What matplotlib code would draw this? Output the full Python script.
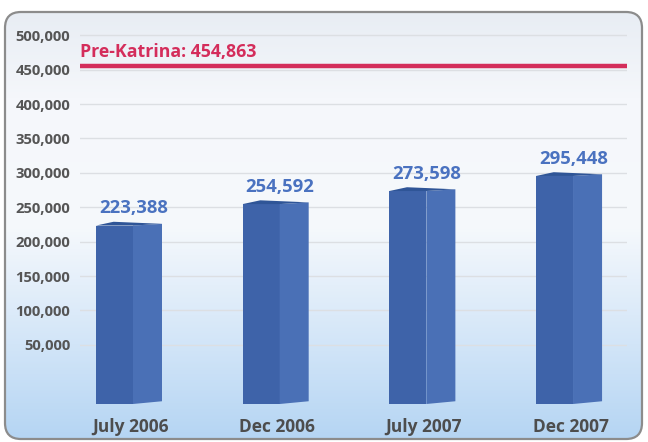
import numpy as np
import matplotlib
matplotlib.use("Agg")
import matplotlib.pyplot as plt
from matplotlib.patches import FancyBboxPatch, Polygon
from matplotlib.colors import LinearSegmentedColormap
from matplotlib.ticker import FuncFormatter

# Dados
periodos = ["July 2006", "Dec 2006", "July 2007", "Dec 2007"]
populacao = [223388, 254592, 273598, 295448]
pre_katrina = 454863
ticks_y = [50000, 100000, 150000, 200000, 250000, 300000, 350000, 400000, 450000, 500000]

plt.rcParams['font.family'] = ['Open Sans', 'DejaVu Sans']

fig = plt.figure(figsize=(6.48, 4.42), dpi=100)
fig.patch.set_facecolor("white")

# Painel de fundo com degradê e cantos arredondados
bg = fig.add_axes([0, 0, 1, 1])
bg.set_xlim(0, 648)
bg.set_ylim(0, 442)
bg.axis("off")
painel = FancyBboxPatch((5, 3), 637, 427, boxstyle="round,pad=0,rounding_size=16",
                        facecolor="none", edgecolor="#8c8c8c", linewidth=1.6, zorder=3)
bg.add_patch(painel)
cmap = LinearSegmentedColormap.from_list(
    "fundo", [(0.0, "#b5d5f3"), (0.22, "#d2e5f8"), (0.5, "#f6f9fc"), (0.8, "#f5f7fb"), (1.0, "#e8edf4")])
grad = np.linspace(0, 1, 256).reshape(-1, 1)
img = bg.imshow(grad, cmap=cmap, aspect="auto", extent=(5, 642, 3, 430), origin="lower", zorder=1)
img.set_clip_path(painel)

# Eixo principal
ax = fig.add_axes([80 / 648, 38 / 442, 547 / 648, 382.5 / 442])
ax.patch.set_alpha(0)
ax.set_xlim(-0.334, 3.395)
ax.set_ylim(-36000, 520000)
for s in ax.spines.values():
    s.set_visible(False)

for t in ticks_y:
    ax.axhline(t, color="#dcdfe3", linewidth=1.0, zorder=1)

ax.set_yticks(ticks_y)
ax.yaxis.set_major_formatter(FuncFormatter(lambda v, p: f"{int(v):,}"))
ax.tick_params(axis="y", length=0, pad=7, labelsize=10.7, labelcolor="#555555")
for lbl in ax.get_yticklabels():
    lbl.set_fontweight("bold")

x = np.arange(len(periodos))
ax.set_xticks(x + 0.01)
ax.set_xticklabels(periodos, fontsize=12.5, fontweight="bold", color="#4d4d4d")
ax.tick_params(axis="x", length=0, pad=10)

# Barras em pseudo-3D
piso = -36000
larg_frente = 0.252
larg_lado = 0.198
for i, v in zip(x, populacao):
    esq = i - 0.225
    meio = esq + larg_frente
    dir_ = meio + larg_lado
    ax.bar(esq, v - piso, bottom=piso, width=larg_frente, align="edge",
           color="#3e63a9", edgecolor="none", zorder=3)
    lado = Polygon([(meio, piso), (dir_, piso + 4000), (dir_, v + 2500), (meio, v)],
                   closed=True, facecolor="#4a70b6", edgecolor="none", zorder=3)
    ax.add_patch(lado)
    topo = Polygon([(esq, v), (esq + 0.12, v + 5500), (dir_, v + 2500), (meio, v)],
                   closed=True, facecolor="#2f5597", edgecolor="none", zorder=4)
    ax.add_patch(topo)
    ax.annotate(f"{v:,}", (i + 0.03, v), xytext=(0, 6), textcoords="offset points",
                ha="center", va="bottom", fontsize=13.3, fontweight="bold",
                color="#4a72c0", zorder=5)

# Linha pré-Katrina
ax.axhline(pre_katrina, color="#d42d5b", linewidth=3.2, zorder=4)
ax.annotate(f"Pre-Katrina: {pre_katrina:,}", (0, pre_katrina),
            xycoords=("axes fraction", "data"), xytext=(0, 4), textcoords="offset points",
            ha="left", va="bottom", fontsize=12.8, fontweight="bold", color="#d42d5b")

fig.savefig("out.png", dpi=100)
